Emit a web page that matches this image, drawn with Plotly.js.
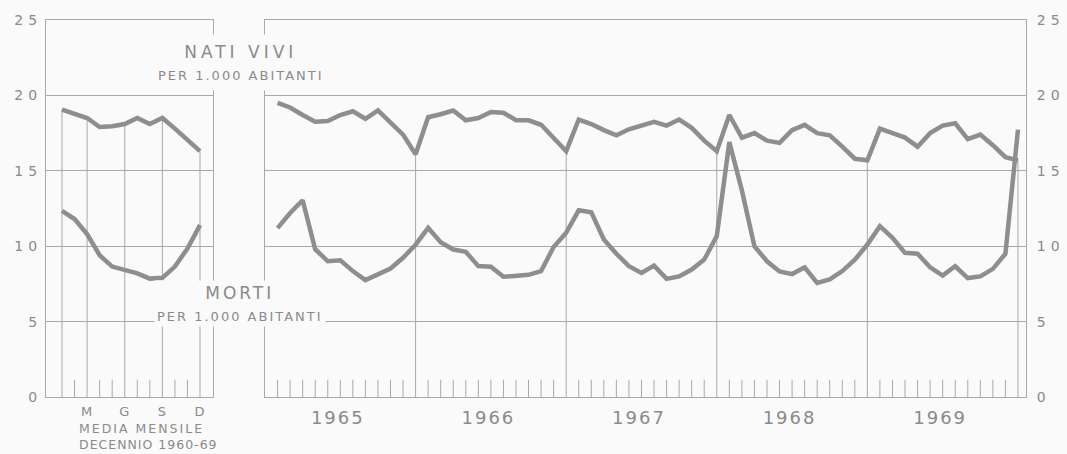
<!DOCTYPE html>
<html><head><meta charset="utf-8">
<script src="https://cdn.plot.ly/plotly-3.0.1.min.js"></script>
<style>
html,body{margin:0;padding:0;background:#fafafa;}
#chart{width:1067px;height:454px;}
#chart .ytick text, #chart .y2tick text{letter-spacing:5px;}
#chart .x2tick text{letter-spacing:2px;}
#chart .xtick text{letter-spacing:1px;}
</style></head><body><div id="chart"></div>
<script>
// ---- data ----
const monthLabels = ['', '', 'M', '', '', 'G', '', '', 'S', '', '', 'D'];
const birthsAvg = [19.05, 18.75, 18.5, 17.9, 17.95, 18.1, 18.5, 18.1, 18.5, 17.8, 17.0, 16.3];
const deathsAvg = [12.35, 11.8, 10.8, 9.4, 8.65, 8.45, 8.2, 7.85, 7.9, 8.65, 9.85, 11.4];
const years = ['1965', '1966', '1967', '1968', '1969'];
const births = [
  19.5, 19.2, 18.7, 18.25, 18.3, 18.7, 18.95, 18.45, 19.0, 18.2, 17.4, 16.1,
  18.55, 18.75, 19.0, 18.35, 18.5, 18.9, 18.85, 18.35, 18.35, 18.05, 17.2, 16.3,
  18.4, 18.1, 17.7, 17.35, 17.75, 18.0, 18.25, 18.0, 18.4, 17.85, 17.0, 16.3,
  18.7, 17.2, 17.5, 17.0, 16.85, 17.7, 18.05, 17.5, 17.35, 16.6, 15.8, 15.7,
  17.8, 17.5, 17.2, 16.6, 17.5, 18.0, 18.15, 17.1, 17.4, 16.7, 15.9, 15.7
];
const deaths = [
  11.2, 12.2, 13.05, 9.8, 9.0, 9.07, 8.35, 7.75, 8.13, 8.52, 9.23, 10.1,
  11.22, 10.26, 9.78, 9.63, 8.68, 8.64, 7.97, 8.02, 8.1, 8.35, 9.95, 10.9,
  12.38, 12.25, 10.44, 9.5, 8.68, 8.23, 8.71, 7.83, 8.0, 8.45, 9.11, 10.67,
  16.9, 13.7, 10.0, 9.0, 8.33, 8.15, 8.6, 7.56, 7.8, 8.35, 9.1, 10.11,
  11.33, 10.56, 9.56, 9.5, 8.6, 8.05, 8.67, 7.89, 8.0, 8.5, 9.5, 17.73
];
const yTicks = [0, 5, 10, 15, 20, 25];

// ---- styling ----
const LINE = '#8e8e8e', GRID = '#a9a9a9', TXT = '#8a8a8a';
const FONT = 'DejaVu Sans, sans-serif';
const TICK_H = 1.15;

const monthIdx = monthLabels.map((_, i) => i + 1);
const kIdx = births.map((_, i) => i + 1);

function segs(xs, tops) {
  const x = [], y = [];
  xs.forEach((v, i) => { x.push(v, v, null); y.push(0, tops[i], null); });
  return {x, y};
}
// left panel: labelled months get tall lines up to the births curve, others short ticks
const leftTall = monthIdx.filter(m => m === 1 || monthLabels[m - 1] !== '');
const leftShort = monthIdx.filter(m => leftTall.indexOf(m) < 0);
const lt = segs(leftTall, leftTall.map(m => birthsAvg[m - 1]));
const ls = segs(leftShort, leftShort.map(() => TICK_H));
const rightTall = kIdx.filter(k => k % 12 === 0);
const rightShort = kIdx.filter(k => k % 12 !== 0);
const rt = segs(rightTall, rightTall.map(k => births[k - 1]));
const rs = segs(rightShort, rightShort.map(() => TICK_H));

const gridLine = {color: GRID, width: 1};
const dataLine = {color: LINE, width: 4.5};
const traces = [
  {x: lt.x, y: lt.y, xaxis: 'x', yaxis: 'y', mode: 'lines', line: gridLine, hoverinfo: 'skip'},
  {x: ls.x, y: ls.y, xaxis: 'x', yaxis: 'y', mode: 'lines', line: gridLine, hoverinfo: 'skip'},
  {x: rt.x, y: rt.y, xaxis: 'x2', yaxis: 'y2', mode: 'lines', line: gridLine, hoverinfo: 'skip'},
  {x: rs.x, y: rs.y, xaxis: 'x2', yaxis: 'y2', mode: 'lines', line: gridLine, hoverinfo: 'skip'},
  {x: monthIdx, y: birthsAvg, xaxis: 'x', yaxis: 'y', mode: 'lines', line: dataLine},
  {x: monthIdx, y: deathsAvg, xaxis: 'x', yaxis: 'y', mode: 'lines', line: dataLine},
  {x: kIdx, y: births, xaxis: 'x2', yaxis: 'y2', mode: 'lines', line: dataLine},
  {x: kIdx, y: deaths, xaxis: 'x2', yaxis: 'y2', mode: 'lines', line: dataLine}
];

const W = 1067, H = 454, ML = 46, MR = 41, MT = 20, MB = 57;
const PW = W - ML - MR, PH = H - MT - MB;
const px = v => (v - ML) / PW;
const py = v => (H - MB - v) / PH;

const axBase = {
  showline: true, mirror: true, linecolor: GRID, linewidth: 1,
  zeroline: false, ticks: '', fixedrange: true
};
const layout = {
  width: W, height: H,
  margin: {l: ML, r: MR, t: MT, b: MB, pad: 0},
  paper_bgcolor: '#fafafa', plot_bgcolor: '#fafafa',
  showlegend: false,
  font: {family: FONT, color: TXT},
  xaxis: Object.assign({}, axBase, {
    domain: [0, px(213)], range: [-0.275, 13.036], anchor: 'y',
    showgrid: false, tickvals: monthIdx, ticktext: monthLabels,
    tickfont: {size: 13, color: TXT}, ticklabelstandoff: 2
  }),
  yaxis: Object.assign({}, axBase, {
    domain: [0, 1], range: [0, 25], anchor: 'x',
    showgrid: true, gridcolor: GRID, gridwidth: 1,
    tickvals: yTicks, tickfont: {size: 14, color: TXT}, ticklabelstandoff: 0
  }),
  xaxis2: Object.assign({}, axBase, {
    domain: [px(265), 1], range: [0, 60.64], anchor: 'y2',
    showgrid: false,
    tickvals: years.map((_, i) => 12 * i + 5.8), ticktext: years,
    tickfont: {size: 18, color: TXT}, ticklabelstandoff: 4
  }),
  yaxis2: Object.assign({}, axBase, {
    domain: [0, 1], range: [0, 25], anchor: 'x2', side: 'right',
    showgrid: true, gridcolor: GRID, gridwidth: 1,
    tickvals: yTicks, tickfont: {size: 14, color: TXT}, ticklabelstandoff: 7
  }),
  annotations: [
    {xref: 'paper', yref: 'paper', x: px(241), y: py(62), xanchor: 'center', yanchor: 'middle',
     text: '<span style="letter-spacing:4px">NATI VIVI</span><br><span style="font-size:13px;letter-spacing:2px">PER 1.000 ABITANTI</span>',
     showarrow: false, bgcolor: '#fafafa', borderpad: 7, font: {size: 17, color: TXT, family: FONT}},
    {xref: 'paper', yref: 'paper', x: px(240), y: py(303), xanchor: 'center', yanchor: 'middle',
     text: '<span style="letter-spacing:3px">MORTI</span><br><span style="font-size:13px;letter-spacing:2px">PER 1.000 ABITANTI</span>',
     showarrow: false, bgcolor: '#fafafa', borderpad: 2, font: {size: 17, color: TXT, family: FONT}},
    {xref: 'paper', yref: 'paper', x: px(77), y: py(419), xanchor: 'left', yanchor: 'top', align: 'left',
     text: '<span style="letter-spacing:2px">MEDIA MENSILE</span><br><span style="letter-spacing:1px">DECENNIO 1960-69</span>',
     showarrow: false, font: {size: 12.5, color: TXT, family: FONT}}
  ]
};
Plotly.newPlot('chart', traces, layout, {staticPlot: true, displayModeBar: false});
</script></body></html>
